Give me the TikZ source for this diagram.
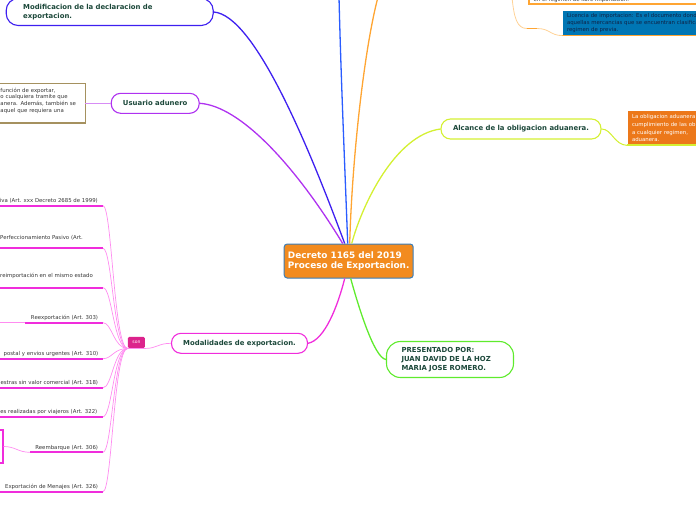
\documentclass[tikz,border=0pt]{standalone}
\usepackage{fontspec}
\setmainfont{DejaVu Sans}
\definecolor{decfill}{RGB}{242,139,31}
\definecolor{decline}{RGB}{58,125,184}
\definecolor{violeta}{RGB}{62,32,240}
\definecolor{azul}{RGB}{42,92,255}
\definecolor{naranja}{RGB}{255,165,50}
\definecolor{naranjaclaro}{RGB}{255,210,150}
\definecolor{lima}{RGB}{212,240,50}
\definecolor{morado}{RGB}{175,50,240}
\definecolor{moradoclaro}{RGB}{215,140,245}
\definecolor{fucsia}{RGB}{240,45,220}
\definecolor{rosa}{RGB}{255,140,240}
\definecolor{verde}{RGB}{95,235,45}
\definecolor{tinta}{RGB}{28,72,58}
\definecolor{gris}{RGB}{55,55,55}
\definecolor{cafe}{RGB}{165,145,95}
\definecolor{sonfill}{RGB}{220,35,140}
\definecolor{licfill}{RGB}{0,118,180}
\definecolor{lictext}{RGB}{15,35,70}
\definecolor{oblfill}{RGB}{236,120,26}
\begin{document}
\begin{tikzpicture}[x=1pt,y=1pt,yscale=-1,
  tema/.style={draw,fill=white,line width=1.1,inner sep=0,align=center,text=tinta,font=\fontsize{6.9}{8.8}\selectfont\bfseries},
  hoja/.style={inner sep=0,text=gris,font=\fontsize{5.4}{6.8}\selectfont},
  rama/.style={line width=1.3},
  fino/.style={rosa,line width=0.7},
  subr/.style={fucsia,line width=1.7}]
\useasboundingbox (0,0) rectangle (696,520);
\clip (0,0) rectangle (696,520);

\node[fill=decfill,draw=decline,line width=1,rounded corners=3,minimum width=129,minimum height=34,inner sep=0,align=left,text=white,font=\fontsize{8.9}{10.3}\selectfont\bfseries] (dec) at (348.7,261) {Decreto 1165 del 2019\\Proceso de Exportacion.};

\node[tema,draw=violeta,minimum width=207,minimum height=27,rounded corners=12,text width=173,align=left] (modif) at (109.7,12) {Modificacion de la declaracion de\\exportacion.};
\node[tema,draw=morado,minimum width=88,minimum height=20,rounded corners=9.5] (uadu) at (155.2,103.3) {Usuario adunero};
\node[tema,draw=lima,minimum width=160,minimum height=20,rounded corners=9.5] (alc) at (521,129) {Alcance de la obligacion aduanera.};
\node[tema,draw=fucsia,minimum width=136,minimum height=20,rounded corners=9.5] (modal) at (239.5,343.3) {Modalidades de exportacion.};
\node[tema,draw=verde,minimum width=127,minimum height=36,rounded corners=14,text width=97,align=left] (pres) at (450,359.5) {PRESENTADO POR:\\JUAN DAVID DE LA HOZ\\MARIA JOSE ROMERO.};

\draw[cafe,line width=1.6,fill=white] (-5,83.5) rectangle (85.5,123);
\node[hoja,anchor=west,text width=84,align=left] (umeta) at (0.3,100.6) {función de exportar,\\o cualquiera tramite que\\anera. Además, también se\\aquel que requiera una};

\node[fill=oblfill,anchor=north west,inner xsep=4.5,inner ysep=0,minimum height=34,text width=120,align=left,text=white,font=\fontsize{5.4}{7.7}\selectfont] (oblig) at (627.3,111) {La obligacion aduanera\\cumplimiento de las obligaciones\\a cualquier regimen,\\aduanera.};
\draw[lima,line width=2] (oblig.south west) -- (oblig.south east);

\node[fill=licfill,anchor=north west,inner xsep=4.5,inner ysep=0,minimum height=24.5,text width=150,align=left,text=lictext,font=\fontsize{5.4}{7}\selectfont] (lic) at (562.3,10.7) {Licencia de importacion: Es el documento donde\\aquellas mercancias que se encuentran clasificadas\\regimen de previa.};
\draw[naranja,line width=1.6] (lic.south west) -- (lic.south east);

\node[draw=naranja,line width=1.6,fill=white,anchor=south west,inner xsep=4.5,inner ysep=2,text width=170,align=left,text=gris,font=\fontsize{5.4}{6.8}\selectfont] (libre) at (528.3,5) {en el regimen de libre importacion.};

\coordinate (otop) at (378,-3);
\coordinate (btop) at (339,-3);
\coordinate (ltop) at (512,-3);
\coordinate (hidA) at (527,28.5);
\coordinate (hidB) at (537,28.5);
\draw[naranjaclaro,line width=0.8] (ltop) .. controls (514,18) and (517,28.5) .. (hidA);
\draw[naranja,line width=1.6] (hidA) -- (hidB);
\draw[naranjaclaro,line width=0.8] (hidB) .. controls (550,28.5) and (550,35.5) .. (lic.south west);

\draw[rama,violeta] (modif.east) .. controls (255,15) and (310,150) .. ([xshift=-4]dec.north);
\draw[rama,azul] (btop) .. controls (341,80) and (345,170) .. ([xshift=-1]dec.north);
\draw[rama,naranja] ([xshift=1]dec.north) .. controls (352,160) and (364,50) .. (otop);
\draw[rama,lima] ([xshift=3]dec.north) .. controls (362,205) and (395,135) .. (alc.west);
\draw[rama,morado] (uadu.east) .. controls (240,106) and (295,165) .. ([xshift=-6]dec.north);
\draw[rama,fucsia] ([xshift=-4]dec.south) .. controls (338,305) and (325,340) .. (modal.east);
\draw[rama,verde] ([xshift=2]dec.south) .. controls (358,305) and (374,358) .. (pres.west);
\draw[lima,line width=1] (alc.east) .. controls (612,129) and (614,145) .. (oblig.south west);
\draw[moradoclaro,line width=1] (uadu.west) -- (uadu.west -| umeta.east);

\node[fill=sonfill,rounded corners=1.5,minimum width=17,minimum height=11.5,inner sep=0,text=white,font=\fontsize{4.5}{5}\selectfont] (son) at (136.4,342.5) {son};
\draw[fino] (modal.west) .. controls +(-13,0) and +(12,0) .. (son.south east);
\draw[fino] (son.south east) -- (son.south west);

\foreach \n/\y in {1/205.7,2/248.3,3/287.7,4/322.7,5/358.7,6/387.7,7/416.7,8/452.3,9/491.7}
  \coordinate (e\n) at (103,\y);
\foreach \n in {1,2,3,5,6,7,9}
  \draw[subr] (e\n) -- ++(-106,0);
\coordinate (r4) at (25,322.7);
\draw[subr] (e4) -- (r4);
\draw[fino] (r4) -- ++(-30,0);
\coordinate (r8) at (30,452.3);
\draw[subr] (e8) -- (r8);
\node[draw=fucsia,line width=1.6,minimum width=20,minimum height=32.5,inner sep=0,anchor=east] (reemb) at (3.5,446.5) {};
\draw[fino] (r8) .. controls +(-12,0) and +(12,0) .. (reemb.east);
\foreach \n in {1,...,9}
  \draw[fino] (son.south west) .. controls +(-14,0) and +(9,0) .. (e\n);

\node[hoja,anchor=base east] (m1) at (98,202.5) {definitiva (Art. xxx Decreto 2685 de 1999)};
\node[hoja,anchor=base west] (m2) at (0,239) {Perfeccionamiento Pasivo (Art.};
\node[hoja,anchor=base west] (m3) at (0,277.5) {reimportación en el mismo estado};
\node[hoja,anchor=base east] (m4) at (98.3,319) {Reexportación (Art. 303)};
\node[hoja,anchor=base east] (m5) at (98.5,355) {postal y envios urgentes (Art. 310)};
\node[hoja,anchor=base east] (m6) at (98.3,384) {muestras sin valor comercial (Art. 318)};
\node[hoja,anchor=base east] (m7) at (97.5,413.2) {temporales realizadas por viajeros (Art. 322)};
\node[hoja,anchor=base east] (m8) at (98.3,449.5) {Reembarque (Art. 306)};
\node[hoja,anchor=base east] (m9) at (98.3,488.3) {Exportación de Menajes (Art. 326)};
\end{tikzpicture}
\end{document}
